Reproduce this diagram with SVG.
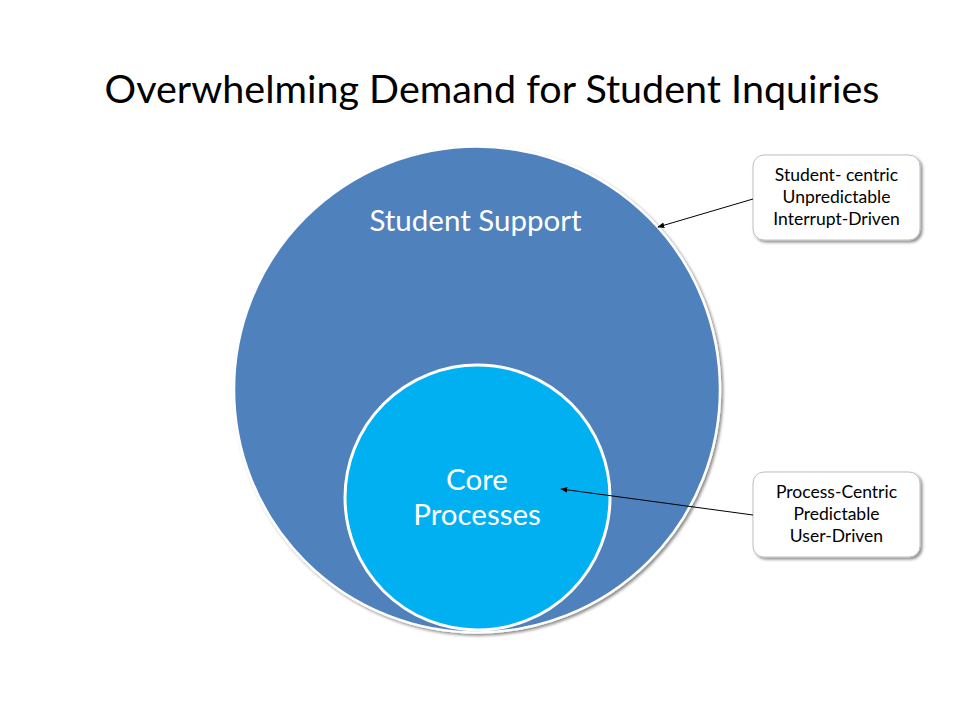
<svg xmlns="http://www.w3.org/2000/svg" width="960" height="720" viewBox="0 0 960 720">
<defs>
<filter id="sh" x="-10%" y="-10%" width="125%" height="125%">
<feGaussianBlur in="SourceAlpha" stdDeviation="1.5"/>
<feOffset dx="2" dy="2" result="b"/>
<feComponentTransfer><feFuncA type="linear" slope="0.45"/></feComponentTransfer>
<feMerge><feMergeNode/><feMergeNode in="SourceGraphic"/></feMerge>
</filter>
<marker id="ah" viewBox="0 0 10 10" refX="9" refY="5" markerWidth="7" markerHeight="7" orient="auto" markerUnits="userSpaceOnUse">
<path d="M0,1 L10,5 L0,9 z" fill="#000"/>
</marker>
</defs>
<style>
.t{font-family:Lato,"Liberation Sans",sans-serif;}
.title{font-size:39.5px;fill:#000;}
.ct{font-size:29.5px;fill:#fff;}
.bt{font-size:17.5px;fill:#000;}
.box{fill:#fff;stroke:#BFBFBF;stroke-width:1;}
.conn{stroke:#000;stroke-width:1;fill:none;marker-end:url(#ah);}
</style>
<rect width="960" height="720" fill="#fff"/>
<text class="t title" x="492" y="103" text-anchor="middle">Overwhelming Demand for Student Inquiries</text>
<g id="student-support">
<circle cx="477" cy="389.5" r="243" fill="#4F81BD" stroke="#fff" stroke-width="2.5" filter="url(#sh)"/>
<text class="t ct" x="475.5" y="231" text-anchor="middle">Student Support</text>
</g>
<g id="core-processes">
<circle cx="477.5" cy="497.5" r="132.5" fill="#00B0F0" stroke="#fff" stroke-width="3"/>
<text class="t ct" text-anchor="middle"><tspan x="477" y="490">Core</tspan><tspan x="477" y="525">Processes</tspan></text>
</g>
<g id="box-student">
<rect class="box" x="753" y="155" width="167" height="85" rx="11" filter="url(#sh)"/>
<text class="t bt" text-anchor="middle"><tspan x="836.5" y="181">Student- centric</tspan><tspan x="836.5" y="203">Unpredictable</tspan><tspan x="836.5" y="225">Interrupt-Driven</tspan></text>
</g>
<g id="box-process">
<rect class="box" x="753" y="472" width="167" height="85" rx="11" filter="url(#sh)"/>
<text class="t bt" text-anchor="middle"><tspan x="836.5" y="498">Process-Centric</tspan><tspan x="836.5" y="520">Predictable</tspan><tspan x="836.5" y="542">User-Driven</tspan></text>
</g>
<g id="connectors">
<line class="conn" x1="753" y1="199" x2="658" y2="227"/>
<line class="conn" x1="753" y1="515" x2="561" y2="489"/>
</g>
</svg>
